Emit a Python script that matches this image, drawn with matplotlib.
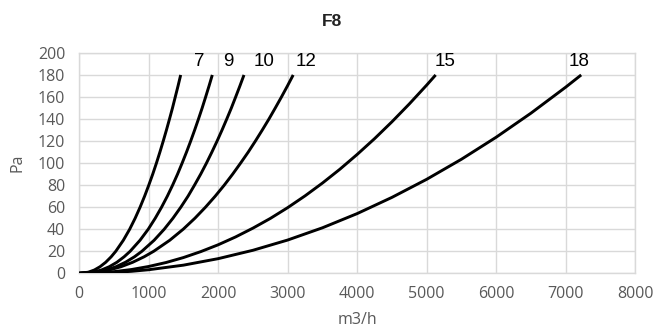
import matplotlib
matplotlib.use("Agg")
import matplotlib.pyplot as plt

# ---- data (read / estimated from the reference) ----
title = "F8"
x_label = "m3/h"
y_label = "Pa"
x_ticks = [0, 1000, 2000, 3000, 4000, 5000, 6000, 7000, 8000]
y_ticks = [0, 20, 40, 60, 80, 100, 120, 140, 160, 180, 200]

curve_names = ["7", "9", "10", "12", "15", "18"]

# steep curves: flow (m3/h) read at given pressure levels (Pa)
pa_levels = [0, 1, 3, 6, 10, 15, 20, 30, 40, 50, 60, 70, 80, 90, 100,
             110, 120, 130, 140, 150, 160, 170, 180]
flow_7 = [0, 130, 218, 300, 381, 460, 526, 635, 726, 805, 876, 941, 1001,
          1058, 1111, 1161, 1209, 1255, 1299, 1342, 1382, 1422, 1460]
flow_9 = [0, 198, 320, 433, 542, 646, 733, 875, 993, 1094, 1185, 1268, 1344,
          1415, 1481, 1544, 1604, 1661, 1716, 1769, 1819, 1868, 1915]
flow_10 = [0, 241, 391, 531, 665, 795, 902, 1078, 1223, 1349, 1462, 1566, 1659,
           1748, 1831, 1909, 1984, 2055, 2123, 2189, 2251, 2312, 2371]
flow_12 = [0, 255, 431, 602, 769, 934, 1072, 1303, 1496, 1665, 1817, 1957, 2087,
           2208, 2322, 2432, 2535, 2634, 2730, 2821, 2910, 2996, 3079]

# flatter curves: pressure (Pa) read at given flows (m3/h)
flow_15 = [0, 250, 500, 750, 1000, 1250, 1500, 1750, 2000, 2250, 2500, 2750,
           3000, 3250, 3500, 3750, 4000, 4250, 4500, 4750, 5000, 5129]
pa_15 = [0, 0.36, 1.5, 3.4, 6.2, 9.8, 14.3, 19.7, 25.9, 33.0, 41.0, 49.8,
         59.6, 70.3, 81.9, 94.4, 107.9, 122.2, 137.5, 153.7, 170.8, 180]
flow_18 = [0, 250, 500, 750, 1000, 1500, 2000, 2500, 3000, 3500, 4000, 4500,
           5000, 5500, 6000, 6500, 7000, 7223]
pa_18 = [0, 0.19, 0.8, 1.8, 3.25, 7.4, 13.3, 20.9, 30.2, 41.3, 54.2, 68.9,
         85.3, 103.5, 123.5, 145.3, 168.9, 180]

series = [
    (flow_7, pa_levels),
    (flow_9, pa_levels),
    (flow_10, pa_levels),
    (flow_12, pa_levels),
    (flow_15, pa_15),
    (flow_18, pa_18),
]

# label offsets from curve end (points)
label_dx = [13.5, 11.5, 14.5, 9.5, 6.5, -1.5]
label_dy = 9.5

# ---- figure ----
fig = plt.figure(figsize=(6.64, 3.27), dpi=100)
ax = fig.add_axes([0.1193, 0.1642, 0.8373, 0.6740])

for (xs, ys), name, dx in zip(series, curve_names, label_dx):
    ax.plot(xs, ys, color="black", lw=2.1, solid_capstyle="butt",
            solid_joinstyle="round", zorder=3)
    ax.annotate(name, xy=(xs[-1], ys[-1]), xytext=(dx, label_dy),
                textcoords="offset points", ha="center", va="center",
                fontsize=13.5, family="Liberation Sans", color="black")

ax.set_xlim(0, 8000)
ax.set_ylim(0, 200)
ax.set_xticks(x_ticks)
ax.set_yticks(y_ticks)
ax.grid(True, color="#d9d9d9", lw=1.0, zorder=0)
ax.set_axisbelow(True)
for sp in ax.spines.values():
    sp.set_color("#d9d9d9")
    sp.set_linewidth(1.0)

ax.tick_params(axis="both", length=0, labelcolor="#595959")
ax.tick_params(axis="x", pad=9)
ax.tick_params(axis="y", pad=10)
for lab in ax.get_xticklabels() + ax.get_yticklabels():
    lab.set_family("Open Sans")
    lab.set_fontsize(11.5)

ax.set_xlabel(x_label, family="Open Sans", fontsize=11.5, color="#595959", labelpad=7)
ax.set_ylabel(y_label, family="Open Sans", fontsize=11.5, color="#595959", labelpad=9)

fig.text(0.5, 0.935, title, ha="center", va="center", fontsize=12.5,
         fontweight="bold", family="Liberation Sans", color="#222222")

fig.savefig("out.png", dpi=100)
